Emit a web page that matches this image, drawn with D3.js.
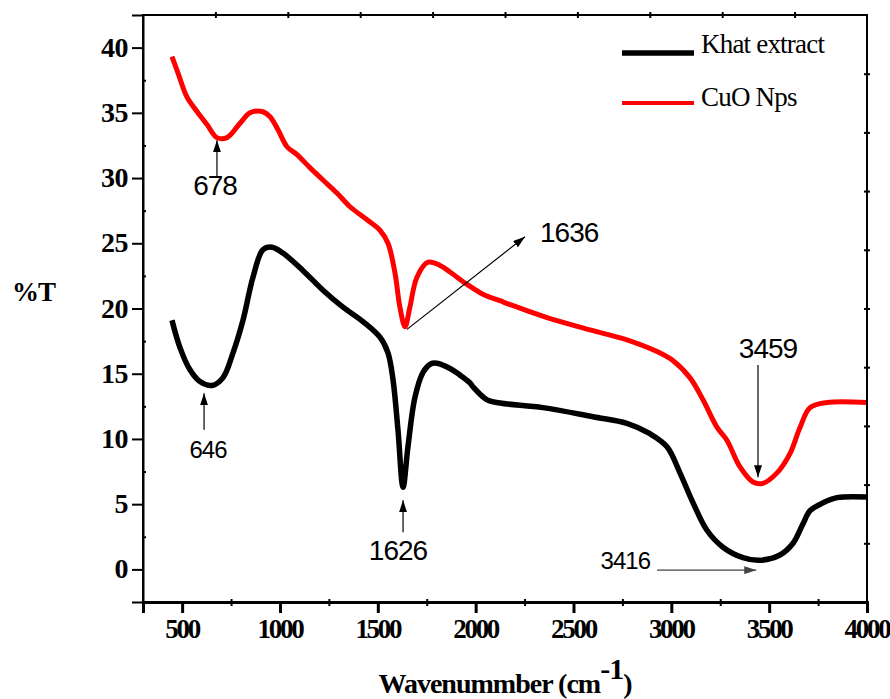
<!DOCTYPE html>
<meta charset="utf-8">
<script src="https://d3js.org/d3.v7.min.js"></script>
<style>
  body { margin: 0; background: #fff; }
  .serif { font-family: "Liberation Serif", "Times New Roman", serif; }
  .sans { font-family: "Liberation Sans", Arial, sans-serif; }
</style>
<svg id="chart" width="890" height="699"></svg>

<script>
    // Khat extract spectrum (black)
    var khatWave = [448, 489, 540, 591, 653, 709, 760, 811, 862, 913, 959, 1015, 1118, 1220, 1322, 1424, 1511, 1552, 1578, 1603, 1629, 1654, 1690, 1731, 1770, 1802, 1869, 1920, 1971, 1986, 2058, 2124, 2344, 2600, 2773, 2891, 2978, 3044, 3111, 3182, 3264, 3366, 3453, 3555, 3622, 3673, 3709, 3775, 3847, 4000];
    var khatT = [19.1, 17.0, 15.3, 14.4, 14.1, 14.7, 16.6, 19.1, 22.4, 24.5, 24.7, 24.25, 22.9, 21.4, 20.1, 19.0, 17.8, 16.6, 14.5, 10.7, 6.3, 9.4, 13.2, 15.1, 15.75, 15.8, 15.4, 14.9, 14.3, 14.0, 13.0, 12.75, 12.4, 11.7, 11.2, 10.4, 9.4, 7.4, 5.1, 3.0, 1.7, 0.9, 0.7, 1.1, 2.0, 3.5, 4.5, 5.1, 5.5, 5.55];

    // CuO Nps spectrum (red)
    var cuoWave = [448, 479, 525, 576, 627, 678, 729, 796, 847, 908, 949, 990, 1036, 1087, 1153, 1220, 1291, 1358, 1445, 1511, 1552, 1588, 1613, 1639, 1664, 1700, 1757, 1818, 1869, 1956, 2037, 2124, 2176, 2365, 2600, 2773, 2927, 3009, 3095, 3162, 3233, 3284, 3351, 3417, 3468, 3540, 3607, 3658, 3709, 3796, 4000];
    var cuoT = [39.3, 38.05, 36.2, 35.1, 34.1, 33.1, 33.1, 34.2, 35.0, 35.1, 34.7, 33.7, 32.4, 31.8, 30.8, 29.85, 28.85, 27.8, 26.8, 26.0, 25.0, 22.7, 20.1, 18.6, 20.1, 22.4, 23.55, 23.3, 22.8, 21.85, 21.1, 20.6, 20.3, 19.3, 18.3, 17.6, 16.7, 16.0, 14.7, 13.0, 10.9, 9.9, 7.85, 6.7, 6.6, 7.4, 8.9, 10.9, 12.4, 12.8, 12.8];

    var xTicks = [500, 1000, 1500, 2000, 2500, 3000, 3500, 4000];
    var yTicks = [0, 5, 10, 15, 20, 25, 30, 35, 40];
    var seriesNames = ["Khat extract", "CuO Nps"];

    // peak labels: arrow from [tail] to [tip], text at [tx, ty] (data units)
    var peakLabels = ["678", "646", "1626", "1636", "3459", "3416"];
    var arrowTail = [[678, 30.1], [612, 10.7], [1629, 2.85], [1649, 18.4], [3443, 15.66], [2927, -0.06]];
    var arrowTip = [[678, 32.9], [612, 13.5], [1629, 5.3], [2252, 25.5], [3443, 7.07], [3434, -0.06]];
    var labelPos = [[668, 28.7], [632, 8.53], [1603, 0.7], [2329, 25.1], [3494, 16.2], [2891, 0.0]];

    var svg = d3.select("#chart"),
        margin = {left: 143, top: 15, right: 23, bottom: 97},
        width = 890 - margin.left - margin.right,
        height = 699 - margin.top - margin.bottom;

    var x = d3.scaleLinear().domain([300, 4000]).range([0, width]);
    var y = d3.scaleLinear().domain([-2.5, 42.5]).range([height, 0]);

    var g = svg.append("g").attr("transform", "translate(" + margin.left + "," + margin.top + ")");

    // arrow marker
    var defs = svg.append("defs");
    function marker(id, color) {
        defs.append("marker").attr("id", id)
            .attr("viewBox", "0 0 12 8").attr("refX", 12).attr("refY", 4)
            .attr("markerWidth", 12).attr("markerHeight", 8)
            .attr("markerUnits", "userSpaceOnUse").attr("orient", "auto")
            .append("path").attr("d", "M0,0 L12,4 L0,8 Z").attr("fill", color);
    }
    marker("arr", "#000");
    marker("arrGray", "#444");

    // curves
    var line = d3.line().curve(d3.curveCatmullRom.alpha(0.5))
        .x(d => x(d[0])).y(d => y(d[1]));

    g.append("path").datum(d3.zip(khatWave, khatT))
        .attr("d", line).attr("fill", "none").attr("stroke", "#000")
        .attr("stroke-width", 5.5).attr("stroke-linejoin", "round");
    g.append("path").datum(d3.zip(cuoWave, cuoT))
        .attr("d", line).attr("fill", "none").attr("stroke", "#ff0000")
        .attr("stroke-width", 5).attr("stroke-linejoin", "round");

    // frame
    g.append("rect").attr("width", width).attr("height", height)
        .attr("fill", "none").attr("stroke", "#000").attr("stroke-width", 2);

    // bottom axis (ticks only, labels drawn below)
    var xAxis = g.append("g").attr("transform", "translate(0," + height + ")")
        .call(d3.axisBottom(x).tickValues(xTicks).tickSize(11).tickFormat(""));
    xAxis.select(".domain").attr("stroke-width", 3);
    xAxis.selectAll(".tick line").attr("stroke-width", 3);
    g.append("g").selectAll("text").data(xTicks).join("text")
        .attr("class", "serif")
        .attr("x", d => x(d)).attr("y", height + 36)
        .attr("text-anchor", "middle")
        .attr("font-weight", "bold").attr("font-size", 27).attr("letter-spacing", -2.3)
        .text(d => d);
    g.append("g").attr("transform", "translate(0," + height + ")")
        .call(d3.axisBottom(x).tickValues(d3.range(750, 4000, 500)).tickSize(4).tickFormat(""))
        .call(a => a.select(".domain").remove())
        .selectAll(".tick line").attr("stroke-width", 2).attr("y1", -3);

    // left axis
    var yAxis = g.append("g")
        .call(d3.axisLeft(y).tickValues(yTicks).tickSize(11).tickFormat(""));
    yAxis.select(".domain").attr("stroke-width", 2);
    yAxis.selectAll(".tick line").attr("stroke-width", 2);
    g.append("g").selectAll("text").data(yTicks).join("text")
        .attr("class", "serif")
        .attr("x", -15).attr("y", d => y(d) + 9)
        .attr("text-anchor", "end")
        .attr("font-weight", "bold").attr("font-size", 28).attr("letter-spacing", -0.5)
        .text(d => d);
    g.append("g")
        .call(d3.axisLeft(y).tickValues(d3.range(-2.5, 42.5, 5)).tickSize(3).tickFormat(""))
        .call(a => a.select(".domain").remove())
        .selectAll(".tick line").attr("stroke-width", 2).attr("x2", 3);

    // top and right: 10 even divisions
    var topVals = d3.range(1, 10).map(i => 300 + i * 370);
    g.append("g").call(d3.axisTop(x).tickValues(topVals).tickSize(3).tickFormat(""))
        .call(a => a.select(".domain").remove())
        .selectAll(".tick line").attr("stroke-width", 2).attr("y1", 3);
    var rightVals = d3.range(1, 10).map(i => -2.5 + i * 4.5);
    g.append("g").attr("transform", "translate(" + width + ",0)")
        .call(d3.axisRight(y).tickValues(rightVals).tickSize(3).tickFormat(""))
        .call(a => a.select(".domain").remove())
        .selectAll(".tick line").attr("stroke-width", 2).attr("x1", -3);

    // axis titles
    svg.append("text").attr("class", "serif").attr("x", 12).attr("y", 301)
        .attr("font-weight", "bold").attr("font-size", 27)
        .attr("letter-spacing", -1).text("%T");
    var xt = svg.append("text").attr("class", "serif").attr("x", 505).attr("y", 693)
        .attr("text-anchor", "middle")
        .attr("font-weight", "bold").attr("font-size", 28).attr("letter-spacing", -1);
    xt.append("tspan").text("Wavenummber (cm");
    xt.append("tspan").attr("dy", -14).attr("font-size", 30).text("-1");
    xt.append("tspan").attr("dy", 14).text(")");

    // legend
    var legendColors = ["#000", "#ff0000"];
    var legendWidth = [5.5, 4];
    seriesNames.forEach(function (name, i) {
        var ly = 53 + i * 50;
        svg.append("line").attr("x1", 622).attr("x2", 694).attr("y1", ly).attr("y2", ly)
            .attr("stroke", legendColors[i]).attr("stroke-width", legendWidth[i]);
        svg.append("text").attr("class", "serif").attr("x", 701).attr("y", ly + (i ? 3 : 0))
            .attr("font-size", 27).attr("letter-spacing", -0.8)
            .text(name);
    });

    // peak annotations
    peakLabels.forEach(function (lab, i) {
        var gray = lab === "3416";
        g.append("line")
            .attr("x1", x(arrowTail[i][0])).attr("y1", y(arrowTail[i][1]))
            .attr("x2", x(arrowTip[i][0])).attr("y2", y(arrowTip[i][1]))
            .attr("stroke", gray ? "#444" : "#000").attr("stroke-width", 1.2)
            .attr("marker-end", gray ? "url(#arrGray)" : "url(#arr)");
        var small = (lab === "646" || lab === "3416");
        var anchor = lab === "1636" ? "start" : (lab === "3416" ? "end" : "middle");
        g.append("text").attr("class", "sans")
            .attr("x", x(labelPos[i][0])).attr("y", y(labelPos[i][1]))
            .attr("text-anchor", anchor)
            .attr("font-size", small ? 24 : 28)
            .attr("letter-spacing", -1).attr("fill", "#000")
            .text(lab);
    });
</script>
